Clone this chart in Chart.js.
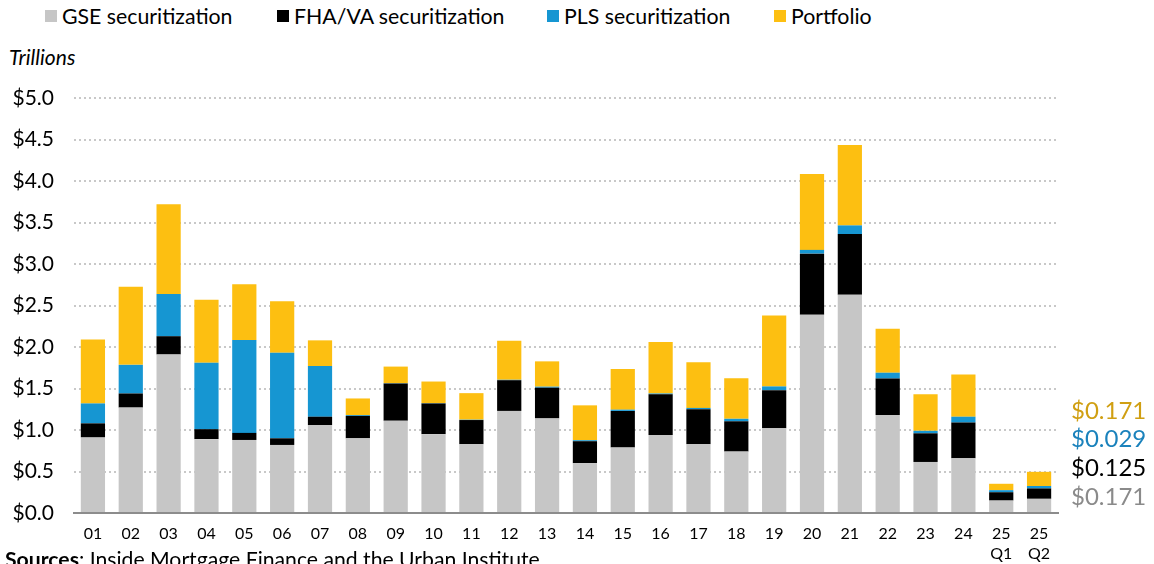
<!DOCTYPE html>
<html>
<head>
<meta charset="utf-8">
<script src="https://cdn.jsdelivr.net/npm/chart.js@4"></script>
<style>
  body { margin: 0; width: 1154px; height: 564px; overflow: hidden; background: #fff; font-family: Lato, sans-serif; position: relative; }
  #wrap { position: absolute; left: 0; top: 0; width: 1154px; height: 564px; }
  .legend span.item { position: absolute; top: 3px; display: flex; align-items: center; font-size: 21.3px; color: #000; white-space: nowrap; }
  .legend i { display: inline-block; width: 12px; height: 12px; margin-right: 5px; }
  .ytitle { position: absolute; left: 9px; top: 44px; font-size: 21px; font-style: italic; color: #000; }
  .source { position: absolute; left: 5px; top: 546px; font-size: 21.2px; color: #000; white-space: nowrap; }
</style>
</head>
<body>
<div class="legend">
  <span class="item" style="left:45px"><i style="background:#c6c6c6"></i>GSE securitization</span>
  <span class="item" style="left:277px"><i style="background:#000"></i>FHA/VA securitization</span>
  <span class="item" style="left:547px"><i style="background:#1696d2"></i>PLS securitization</span>
  <span class="item" style="left:774px"><i style="background:#fdbf11"></i>Portfolio</span>
</div>
<div class="ytitle">Trillions</div>
<div id="wrap"><canvas id="chart"></canvas></div>
<div class="source"><b>Sources</b>: Inside Mortgage Finance and the Urban Institute</div>
<script>
// Données (trillions $)
const years = ['01','02','03','04','05','06','07','08','09','10','11','12','13','14','15','16','17','18','19','20','21','22','23','24',['25','Q1'],['25','Q2']];
const gse = [0.91,1.27,1.91,0.89,0.88,0.82,1.06,0.90,1.11,0.95,0.83,1.23,1.14,0.60,0.79,0.94,0.83,0.74,1.02,2.39,2.63,1.18,0.615,0.66,0.15,0.171];
const fhaVa = [0.17,0.17,0.22,0.12,0.085,0.08,0.10,0.27,0.45,0.37,0.29,0.37,0.37,0.265,0.44,0.49,0.42,0.365,0.46,0.735,0.73,0.44,0.345,0.43,0.10,0.125];
const pls = [0.24,0.345,0.51,0.80,1.12,1.03,0.61,0.01,0.004,0.004,0.004,0.005,0.012,0.012,0.015,0.01,0.016,0.03,0.045,0.045,0.105,0.07,0.03,0.07,0.025,0.029];
const portfolio = [0.77,0.94,1.08,0.76,0.67,0.62,0.31,0.20,0.20,0.26,0.32,0.47,0.305,0.42,0.49,0.62,0.55,0.49,0.855,0.915,0.97,0.53,0.44,0.51,0.077,0.171];
const yTicks = [0,0.5,1,1.5,2,2.5,3,3.5,4,4.5,5];

// étiquettes de la dernière barre, à droite
const lastLabels = {
    id: 'lastLabels',
    afterDraw(chart) {
        const ctx = chart.ctx;
        const area = chart.chartArea;
        const items = [
            { v: gse[gse.length - 1], c: '#8a8a8a' },
            { v: fhaVa[fhaVa.length - 1], c: '#000000' },
            { v: pls[pls.length - 1], c: '#1a82bc' },
            { v: portfolio[portfolio.length - 1], c: '#d09f12' }
        ];
        ctx.save();
        ctx.font = '24px Lato';
        ctx.textBaseline = 'middle';
        ctx.textAlign = 'left';
        items.forEach((it, i) => {
            ctx.fillStyle = it.c;
            ctx.fillText('$' + it.v.toFixed(3), area.right + 13, area.bottom - 16 - i * 28.7);
        });
        ctx.restore();
    }
};

const ctx = document.getElementById('chart').getContext('2d');
new Chart(ctx, {
    type: 'bar',
    data: {
        labels: years,
        datasets: [
            { label: 'GSE securitization', data: gse, backgroundColor: '#c6c6c6' },
            { label: 'FHA/VA securitization', data: fhaVa, backgroundColor: '#000000' },
            { label: 'PLS securitization', data: pls, backgroundColor: '#1696d2' },
            { label: 'Portfolio', data: portfolio, backgroundColor: '#fdbf11' }
        ]
    },
    options: {
        responsive: true,
        maintainAspectRatio: false,
        animation: false,
        datasets: { bar: { barPercentage: 0.64, categoryPercentage: 1 } },
        layout: { padding: { top: 98, right: 96, bottom: 0, left: 10 } },
        plugins: { legend: { display: false }, tooltip: { enabled: false } },
        scales: {
            x: {
                stacked: true,
                grid: { display: false, drawTicks: false },
                border: { display: true, color: '#8c8c8c', width: 2 },
                ticks: { color: '#000', font: { family: 'Lato', size: 16, lineHeight: 1.23 }, padding: 11, autoSkip: false, maxRotation: 0 },
                afterFit: s => { s.height = 51; }
            },
            y: {
                stacked: true,
                min: 0, max: 5,
                afterBuildTicks: s => { s.ticks = yTicks.map(v => ({ value: v })); },
                grid: {
                    color: c => c.tick.value === 0 ? 'rgba(0,0,0,0)' : '#c8c8c8',
                    lineWidth: 2,
                    drawTicks: false
                },
                border: { display: false, dash: [2, 3] },
                ticks: { color: '#000', font: { family: 'Lato', size: 21 }, padding: 20, callback: v => '$' + v.toFixed(1) },
                afterFit: s => { s.width = 64; }
            }
        }
    },
    plugins: [lastLabels]
});
</script>
</body>
</html>
